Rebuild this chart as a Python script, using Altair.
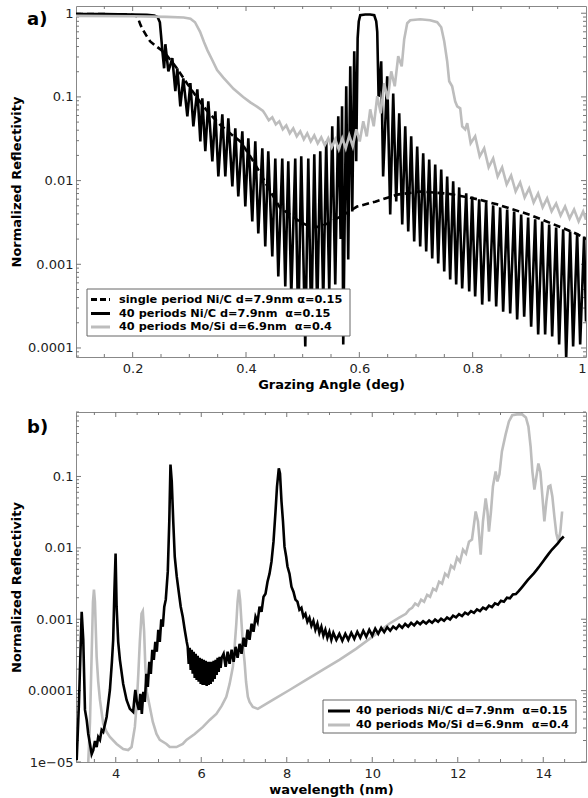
import altair as alt
import pandas as pd

# ---------------- panel a) reflectivity vs grazing angle ----------------
a_single = [
    (0.100, 0.98), (0.150, 0.975), (0.195, 0.965), (0.206, 0.94), (0.210, 0.85),
    (0.214, 0.72), (0.219, 0.62), (0.225, 0.53), (0.231, 0.46), (0.240, 0.41),
    (0.249, 0.37), (0.261, 0.31), (0.278, 0.22), (0.296, 0.145), (0.314, 0.097),
    (0.332, 0.067), (0.355, 0.046), (0.378, 0.034), (0.390, 0.0294), (0.4076, 0.0195),
    (0.4253, 0.0122), (0.4429, 0.0074), (0.4605, 0.0047), (0.4782, 0.0039), (0.4958, 0.0032),
    (0.5134, 0.0028), (0.531, 0.0028), (0.5487, 0.0032), (0.5751, 0.0040), (0.596, 0.0049),
    (0.628, 0.0056), (0.667, 0.0068), (0.707, 0.0074), (0.755, 0.0070), (0.808, 0.0060),
    (0.843, 0.0052), (0.901, 0.0039), (0.960, 0.0027), (0.984, 0.0023), (1.0, 0.0020),
]

a_nic = [
    (0.100, 0.98), (0.150, 0.975), (0.200, 0.965), (0.225, 0.955), (0.238, 0.94),
    (0.244, 0.90), (0.248, 0.78), (0.250, 0.55), (0.2525, 0.35), (0.2555, 0.22),
    (0.2577, 0.426), (0.2630, 0.202), (0.2700, 0.290), (0.2753, 0.117), (0.2788, 0.220),
    (0.2841, 0.0772), (0.2894, 0.167), (0.2965, 0.0586), (0.3018, 0.146), (0.3071, 0.0445),
    (0.3141, 0.123), (0.3194, 0.0294), (0.3229, 0.0962), (0.3282, 0.0224), (0.3335, 0.0886),
    (0.3406, 0.0170), (0.3459, 0.0673), (0.3512, 0.0112), (0.3582, 0.0619), (0.3635, 0.0112),
    (0.3688, 0.0555), (0.3759, 0.00853), (0.3811, 0.0421), (0.3864, 0.00647), (0.3935, 0.0388),
    (0.3988, 0.00491), (0.4041, 0.0320), (0.4111, 0.00325), (0.4164, 0.0294), (0.4217, 0.00234),
    (0.4288, 0.0243), (0.4340, 0.00163), (0.4393, 0.0224), (0.4464, 0.00124), (0.4517, 0.0184),
    (0.4570, 0.000715), (0.4640, 0.0184), (0.4693, 0.000542), (0.4746, 0.0170), (0.4799, 0.000412),
    (0.4869, 0.0184), (0.4922, 0.000157), (0.4975, 0.0195), (0.5046, 0.000104), (0.5099, 0.0184),
    (0.5152, 0.000157), (0.5205, 0.0206), (0.5257, 0.000272), (0.5310, 0.0224), (0.5363, 0.000359),
    (0.5416, 0.0294), (0.5469, 0.000473), (0.5522, 0.0445), (0.5575, 0.000573), (0.5628, 0.0586),
    (0.5670, 0.0020), (0.5695, 0.0772), (0.5716, 0.000110), (0.5769, 0.134), (0.5804, 0.00114),
    (0.5840, 0.232), (0.5875, 0.00428), (0.5910, 0.351), (0.5945, 0.0170), (0.5970, 0.50),
    (0.5990, 0.80), (0.6016, 0.946), (0.6104, 0.965), (0.6192, 0.965), (0.6263, 0.946),
    (0.6298, 0.802), (0.6316, 0.60), (0.6340, 0.10), (0.6386, 0.267), (0.6420, 0.0112),
    (0.6492, 0.176), (0.6545, 0.00394), (0.6598, 0.110), (0.6651, 0.00564), (0.6704, 0.0637),
    (0.6757, 0.00299), (0.6810, 0.0445), (0.6863, 0.00247), (0.6915, 0.0338), (0.6968, 0.00187),
    (0.7021, 0.0256), (0.7074, 0.00163), (0.7127, 0.0212), (0.7180, 0.00142), (0.7233, 0.0179),
    (0.7286, 0.00117), (0.7339, 0.0156), (0.7392, 0.00102), (0.7445, 0.0136), (0.7498, 0.00082),
    (0.7550, 0.0112), (0.7603, 0.000658), (0.7656, 0.00978), (0.7709, 0.000573), (0.7762, 0.00829),
    (0.7815, 0.000514), (0.7886, 0.00703), (0.7939, 0.000473), (0.7991, 0.00647), (0.8044, 0.000412),
    (0.8115, 0.00596), (0.8168, 0.000330), (0.8238, 0.00548), (0.8291, 0.000359), (0.8362, 0.00505),
    (0.8415, 0.000313), (0.8485, 0.00478), (0.8538, 0.000272), (0.8609, 0.00452), (0.8662, 0.000258),
    (0.8732, 0.00428), (0.8785, 0.000219), (0.8856, 0.00394), (0.8909, 0.000237), (0.8979, 0.00363),
    (0.9032, 0.000180), (0.9103, 0.00344), (0.9156, 0.000145), (0.9226, 0.00325), (0.9279, 0.000145),
    (0.9350, 0.00299), (0.9403, 0.000137), (0.9473, 0.00275), (0.9526, 0.000110), (0.9597, 0.00261),
    (0.9650, 0.000075), (0.9720, 0.00247), (0.9773, 0.000104), (0.9844, 0.00234), (0.9897, 0.000110),
    (0.9967, 0.00215), (1.0, 0.000207),
]

a_mosi = [
    (0.100, 0.93), (0.200, 0.92), (0.260, 0.905), (0.290, 0.89), (0.302, 0.86),
    (0.310, 0.78), (0.319, 0.60), (0.326, 0.45), (0.332, 0.36), (0.340, 0.28),
    (0.349, 0.21), (0.360, 0.17), (0.378, 0.125), (0.395, 0.10), (0.4076, 0.086),
    (0.420, 0.076), (0.4300, 0.068), (0.4340, 0.0619), (0.4402, 0.0525), (0.4464, 0.0570),
    (0.4526, 0.0470), (0.4587, 0.0511), (0.4649, 0.0410), (0.4711, 0.0457), (0.4773, 0.0367),
    (0.4834, 0.0421), (0.4896, 0.0338), (0.4958, 0.0388), (0.5020, 0.0311), (0.5081, 0.0367),
    (0.5143, 0.0294), (0.5205, 0.0347), (0.5266, 0.0279), (0.5328, 0.0329), (0.5390, 0.0264),
    (0.5452, 0.0320), (0.5513, 0.0250), (0.5575, 0.0311), (0.5637, 0.0236), (0.5699, 0.0320),
    (0.5760, 0.0243), (0.5822, 0.0347), (0.5884, 0.0256), (0.5946, 0.0410), (0.6007, 0.0294),
    (0.6069, 0.0511), (0.6131, 0.0338), (0.6192, 0.0711), (0.6254, 0.0445), (0.6316, 0.102),
    (0.6378, 0.0637), (0.6439, 0.146), (0.6501, 0.0936), (0.6563, 0.202), (0.6625, 0.134),
    (0.6686, 0.306), (0.6748, 0.232), (0.6792, 0.489), (0.6845, 0.759), (0.6898, 0.825),
    (0.7074, 0.848), (0.7250, 0.825), (0.7374, 0.780), (0.7445, 0.680), (0.7498, 0.463),
    (0.7550, 0.267), (0.7586, 0.154), (0.7638, 0.134), (0.7691, 0.0886), (0.7727, 0.0772),
    (0.7780, 0.0730), (0.7815, 0.0445), (0.7868, 0.0410), (0.7904, 0.0484), (0.7965, 0.0279),
    (0.8044, 0.0338), (0.8124, 0.0195), (0.8203, 0.0243), (0.8282, 0.0144), (0.8362, 0.0184),
    (0.8441, 0.0112), (0.8520, 0.0144), (0.8600, 0.00901), (0.8679, 0.0115), (0.8758, 0.00743),
    (0.8838, 0.00951), (0.8917, 0.00630), (0.8997, 0.00807), (0.9076, 0.00548), (0.9155, 0.00703),
    (0.9235, 0.00478), (0.9314, 0.00612), (0.9393, 0.00428), (0.9473, 0.00533), (0.9552, 0.00383),
    (0.9631, 0.00491), (0.9711, 0.00353), (0.9790, 0.00452), (0.9870, 0.00325), (0.9949, 0.00428),
    (1.0, 0.00340),
]

# ---------------- panel b) reflectivity vs wavelength ----------------
b_nic = [
    (3.086, 1.06e-5), (3.140, 6.95e-5), (3.203, 0.00127), (3.240, 0.000515), (3.280, 5.37e-5),
    (3.320, 3.88e-5), (3.357, 2.47e-5), (3.397, 1.79e-5), (3.436, 1.29e-5), (3.474, 1.47e-5),
    (3.513, 1.97e-5), (3.553, 1.62e-5), (3.590, 2.24e-5), (3.630, 2.04e-5), (3.670, 2.81e-5),
    (3.707, 2.64e-5), (3.786, 4.28e-5), (3.863, 1.02e-4), (3.910, 2.53e-4), (3.940, 5.15e-4),
    (3.968, 2.43e-3), (3.996, 8.3e-3), (4.020, 1.5e-3), (4.057, 4.83e-4), (4.097, 2.70e-4),
    (4.174, 1.24e-4), (4.253, 7.4e-5), (4.330, 5.55e-5), (4.407, 5.03e-5), (4.435, 7.66e-5),
    (4.458, 1.02e-4), (4.493, 6.95e-5), (4.540, 5.37e-5), (4.575, 9.0e-5), (4.610, 4.72e-5),
    (4.645, 9.6e-5), (4.680, 6.95e-5), (4.715, 1.72e-4), (4.750, 1.13e-4), (4.785, 2.53e-4),
    (4.820, 1.72e-4), (4.855, 3.73e-4), (4.890, 2.70e-4), (4.925, 4.83e-4), (4.960, 3.50e-4),
    (4.995, 7.12e-4), (5.030, 4.83e-4), (5.065, 1.0e-3), (5.100, 7.85e-4), (5.135, 1.5e-3),
    (5.170, 1.88e-3), (5.217, 4.64e-3), (5.252, 0.0234), (5.280, 0.147), (5.310, 0.0851),
    (5.345, 0.0234), (5.380, 0.00754), (5.427, 0.00395), (5.473, 0.00243), (5.520, 0.0015),
    (5.567, 0.00108), (5.613, 7.12e-4), (5.660, 4.83e-4), (5.683, 4.11e-4), (5.707, 2.37e-4),
    (5.730, 3.98e-4), (5.753, 1.955e-4), (5.777, 3.73e-4), (5.800, 1.72e-4), (5.823, 3.50e-4),
    (5.847, 1.51e-4), (5.870, 3.28e-4), (5.893, 1.415e-4), (5.917, 3.07e-4), (5.940, 1.33e-4),
    (5.963, 2.88e-4), (5.987, 1.24e-4), (6.010, 2.79e-4), (6.033, 1.20e-4), (6.057, 2.70e-4),
    (6.080, 1.20e-4), (6.103, 2.61e-4), (6.127, 1.166e-4), (6.150, 2.53e-4), (6.173, 1.20e-4),
    (6.197, 2.53e-4), (6.220, 1.24e-4), (6.243, 2.53e-4), (6.267, 1.33e-4), (6.290, 2.61e-4),
    (6.313, 1.46e-4), (6.337, 2.70e-4), (6.360, 1.66e-4), (6.383, 2.88e-4), (6.407, 1.83e-4),
    (6.430, 2.97e-4), (6.453, 2.09e-4), (6.477, 2.88e-4), (6.523, 3.28e-4), (6.570, 2.16e-4),
    (6.617, 3.5e-4), (6.663, 2.37e-4), (6.710, 3.73e-4), (6.757, 2.53e-4), (6.803, 4.11e-4),
    (6.850, 2.88e-4), (6.897, 4.52e-4), (6.943, 3.28e-4), (6.990, 5.5e-4), (7.037, 4.11e-4),
    (7.083, 7.12e-4), (7.130, 5.15e-4), (7.177, 8.65e-4), (7.223, 6.67e-4), (7.270, 1.08e-3),
    (7.317, 9.2e-4), (7.363, 1.5e-3), (7.410, 1.27e-3), (7.457, 2.07e-3), (7.503, 2.28e-3),
    (7.550, 3.36e-3), (7.597, 4.35e-3), (7.643, 6.41e-3), (7.690, 0.0122), (7.737, 0.0323),
    (7.772, 0.0724), (7.814, 0.13), (7.842, 0.110), (7.877, 0.0446), (7.912, 0.0234),
    (7.947, 0.0104), (7.987, 0.0075), (8.017, 0.00548), (8.064, 0.00435), (8.110, 0.00286),
    (8.157, 0.00243), (8.203, 1.88e-3), (8.250, 1.76e-3), (8.296, 1.36e-3), (8.343, 1.45e-3),
    (8.390, 1.08e-3), (8.437, 1.19e-3), (8.483, 9.2e-4), (8.530, 1.05e-3), (8.577, 8.1e-4),
    (8.623, 9.5e-4), (8.670, 7.12e-4), (8.717, 8.65e-4), (8.763, 6.46e-4), (8.810, 7.85e-4),
    (8.857, 5.9e-4), (8.903, 7.12e-4), (8.950, 5.5e-4), (8.997, 6.67e-4), (9.043, 5.15e-4),
    (9.090, 6.46e-4), (9.160, 5.15e-4), (9.230, 6.25e-4), (9.300, 5.0e-4), (9.370, 6.25e-4),
    (9.440, 5.15e-4), (9.510, 6.46e-4), (9.580, 5.3e-4), (9.650, 6.67e-4), (9.720, 5.5e-4),
    (9.790, 6.9e-4), (9.860, 5.7e-4), (9.930, 7.12e-4), (10.000, 5.9e-4), (10.070, 7.4e-4),
    (10.140, 6.25e-4), (10.210, 7.6e-4), (10.280, 6.6e-4), (10.350, 7.75e-4), (10.420, 6.9e-4),
    (10.490, 7.9e-4), (10.560, 7.3e-4), (10.630, 8.3e-4), (10.700, 7.6e-4), (10.770, 8.6e-4),
    (10.840, 7.9e-4), (10.910, 8.9e-4), (10.980, 8.2e-4), (11.050, 9.2e-4), (11.120, 8.5e-4),
    (11.190, 9.4e-4), (11.260, 8.7e-4), (11.330, 9.6e-4), (11.400, 8.9e-4), (11.470, 9.9e-4),
    (11.540, 9.2e-4), (11.610, 1.02e-3), (11.680, 9.5e-4), (11.750, 1.06e-3), (11.820, 9.9e-4),
    (11.890, 1.12e-3), (11.960, 1.06e-3), (12.030, 1.18e-3), (12.100, 1.11e-3), (12.170, 1.24e-3),
    (12.240, 1.17e-3), (12.310, 1.30e-3), (12.380, 1.23e-3), (12.450, 1.37e-3), (12.520, 1.30e-3),
    (12.590, 1.45e-3), (12.660, 1.38e-3), (12.730, 1.55e-3), (12.800, 1.48e-3), (12.870, 1.67e-3),
    (12.940, 1.60e-3), (13.010, 1.82e-3), (13.080, 1.76e-3), (13.150, 2.0e-3), (13.220, 1.96e-3),
    (13.290, 2.22e-3), (13.360, 2.25e-3), (13.430, 2.5e-3), (13.500, 2.8e-3), (13.570, 3.15e-3),
    (13.640, 3.55e-3), (13.710, 3.95e-3), (13.780, 4.4e-3), (13.850, 4.95e-3), (13.920, 5.6e-3),
    (13.990, 6.4e-3), (14.060, 7.3e-3), (14.130, 8.3e-3), (14.200, 9.4e-3), (14.270, 0.0104),
    (14.340, 0.0115), (14.410, 0.0131), (14.480, 0.0144),
]

b_mosi = [
    (3.35, 8.0e-6), (3.397, 3.64e-5), (3.432, 2.53e-4), (3.467, 1.76e-3), (3.490, 2.59e-3),
    (3.513, 1.76e-3), (3.553, 2.97e-4), (3.590, 1.33e-4), (3.630, 7.4e-5), (3.707, 3.41e-5),
    (3.786, 2.64e-5), (3.863, 2.24e-5), (4.020, 1.79e-5), (4.174, 1.52e-5), (4.290, 1.47e-5),
    (4.370, 1.62e-5), (4.447, 3.1e-5), (4.493, 6.95e-5), (4.528, 1.72e-4), (4.563, 4.83e-4),
    (4.603, 1.2e-3), (4.633, 1.3e-3), (4.664, 6.67e-4), (4.692, 2.16e-4), (4.727, 9.6e-5),
    (4.797, 5.9e-5), (4.867, 3.64e-5), (4.953, 2.47e-5), (5.030, 2.04e-5), (5.186, 1.79e-5),
    (5.263, 1.62e-5), (5.420, 1.62e-5), (5.567, 1.79e-5), (5.653, 2.04e-5), (5.847, 2.47e-5),
    (6.040, 3.1e-5), (6.197, 3.88e-5), (6.353, 4.72e-5), (6.477, 6.1e-5), (6.586, 8.2e-5),
    (6.663, 1.24e-4), (6.740, 2.16e-4), (6.780, 4.11e-4), (6.820, 8.65e-4), (6.850, 1.76e-3),
    (6.880, 2.59e-3), (6.908, 1.88e-3), (6.943, 8.65e-4), (6.978, 4.11e-4), (7.013, 2.53e-4),
    (7.048, 1.33e-4), (7.090, 8.2e-5), (7.130, 6.95e-5), (7.207, 5.9e-5), (7.324, 5.55e-5),
    (7.674, 7.4e-5), (8.064, 1.02e-4), (8.453, 1.415e-4), (8.840, 1.955e-4), (9.230, 2.70e-4),
    (9.620, 3.85e-4), (10.007, 5.7e-4), (10.397, 8.65e-4), (10.630, 1.05e-3), (10.787, 1.19e-3),
    (10.863, 1.36e-3), (10.933, 1.45e-3), (11.003, 1.66e-3), (11.073, 1.55e-3), (11.143, 1.88e-3),
    (11.213, 1.76e-3), (11.283, 2.2e-3), (11.353, 2.07e-3), (11.423, 2.68e-3), (11.493, 2.52e-3),
    (11.563, 3.36e-3), (11.633, 3.15e-3), (11.703, 4.35e-3), (11.773, 3.96e-3), (11.843, 5.63e-3),
    (11.913, 5.14e-3), (11.983, 7.3e-3), (12.053, 6.4e-3), (12.123, 9.4e-3), (12.193, 8.3e-3),
    (12.263, 0.0122), (12.333, 0.0131), (12.419, 0.0323), (12.473, 0.0234), (12.536, 8.0e-3),
    (12.590, 0.0234), (12.653, 0.0491), (12.695, 0.0323), (12.730, 0.0169), (12.777, 0.0323),
    (12.823, 0.0724), (12.886, 0.117), (12.928, 0.0851), (12.975, 0.107), (13.033, 0.224),
    (13.120, 0.389), (13.197, 0.59), (13.274, 0.72), (13.384, 0.74), (13.508, 0.74),
    (13.594, 0.67), (13.653, 0.50), (13.704, 0.263), (13.746, 0.117), (13.793, 0.0657),
    (13.840, 0.10), (13.886, 0.152), (13.933, 0.117), (13.980, 0.0524), (14.026, 0.0234),
    (14.073, 0.0446), (14.120, 0.0724), (14.166, 0.0748), (14.213, 0.0524), (14.260, 0.0276),
    (14.306, 0.0159), (14.353, 0.0122), (14.400, 0.0169), (14.442, 0.0323),
]

legend_a = ["single period Ni/C d=7.9nm α=0.15",
            "40 periods Ni/C d=7.9nm  α=0.15",
            "40 periods Mo/Si d=6.9nm  α=0.4"]
legend_b = ["40 periods Ni/C d=7.9nm  α=0.15",
            "40 periods Mo/Si d=6.9nm  α=0.4"]

a_xticks_major = [0.2, 0.4, 0.6, 0.8]
a_xticks_minor = [0.15, 0.25, 0.3, 0.35, 0.45, 0.5, 0.55, 0.65, 0.7, 0.75, 0.85, 0.9, 0.95]
a_ylabels = [1, 0.1, 0.01, 0.001, 0.0001]
b_xticks_major = [4, 6, 8, 10, 12, 14]
b_xticks_minor = [3.5, 4.5, 5, 5.5, 6.5, 7, 7.5, 8.5, 9, 9.5, 10.5, 11, 11.5, 12.5, 13, 13.5, 14.5]
b_ylabels = [0.1, 0.01, 0.001, 0.0001, 0.00001]

# ---------------- styling ----------------
FONT = "DejaVu Sans"
GREY = "#bdbdbd"
TICKC = "#777777"
W = 510
HA, HB = 351, 350


def minor_log(lo, hi):
    out = []
    for e in range(-6, 1):
        for m in range(2, 10):
            v = m * 10.0 ** e
            if lo <= v <= hi:
                out.append(v)
    return out


def frame(pairs):
    return pd.DataFrame({"x": [p[0] for p in pairs], "y": [p[1] for p in pairs]})


def tick_layers(xs, ys, xaxis, yaxis, H, xmaj, xmin, ymaj, ymin):
    layers = []
    for vals, ln in ((xmaj, 5), (xmin, 3)):
        base = alt.Chart(pd.DataFrame({"v": vals})).mark_rule(color=TICKC, strokeWidth=1)
        layers.append(base.encode(x=alt.X("v:Q", scale=xs, axis=xaxis), y=alt.value(H), y2=alt.value(H - ln)))
        layers.append(base.encode(x=alt.X("v:Q", scale=xs, axis=xaxis), y=alt.value(0), y2=alt.value(ln)))
    for vals, ln in ((ymaj, 5), (ymin, 3)):
        base = alt.Chart(pd.DataFrame({"v": vals})).mark_rule(color=TICKC, strokeWidth=1)
        layers.append(base.encode(y=alt.Y("v:Q", scale=ys, axis=yaxis), x=alt.value(0), x2=alt.value(ln)))
        layers.append(base.encode(y=alt.Y("v:Q", scale=ys, axis=yaxis), x=alt.value(W), x2=alt.value(W - ln)))
    return layers


def legend_layers(box, entries, sx1, sx2, tx):
    bx1, bx2, by1, by2 = box
    layers = [alt.Chart(pd.DataFrame({"k": [0]})).mark_rect(
        fill="white", stroke="#666666", strokeWidth=1).encode(
        x=alt.value(bx1), x2=alt.value(bx2), y=alt.value(by1), y2=alt.value(by2))]
    for label, color, dash, ry in entries:
        d = pd.DataFrame({"label": [label.replace("  ", " \u00a0")]})
        kw = dict(color=color, strokeWidth=3)
        if dash:
            kw["strokeDash"] = dash
        layers.append(alt.Chart(d).mark_rule(**kw).encode(
            x=alt.value(sx1), x2=alt.value(sx2), y=alt.value(ry)))
        layers.append(alt.Chart(d).mark_text(
            align="left", baseline="middle", font=FONT, fontSize=11.3,
            fontWeight="bold", color="black").encode(
            x=alt.value(tx), y=alt.value(ry), text="label:N"))
    return layers


def tag(text, y):
    return alt.Chart(pd.DataFrame({"t": [text]})).mark_text(
        align="left", baseline="alphabetic", font=FONT, fontSize=18,
        fontWeight="bold", color="black").encode(
        x=alt.value(-49), y=alt.value(y), text="t:N")


def line(df, xs, ys, xaxis, yaxis, color, dash=None, width=2.6):
    kw = dict(color=color, strokeWidth=width, clip=True)
    if dash:
        kw["strokeDash"] = dash
    return alt.Chart(df).mark_line(**kw).encode(
        x=alt.X("x:Q", scale=xs, axis=xaxis),
        y=alt.Y("y:Q", scale=ys, axis=yaxis),
        order=alt.Order("x:Q"))


def axes(xtitle, xvals, ytitle, yvals, H, ylabel_expr, flush):
    xaxis = alt.Axis(title=xtitle, values=xvals, format="~g", labelFlush=flush,
                     ticks=False, domain=False, grid=False, labelPadding=5,
                     titleY=27, titleBaseline="middle")
    yaxis = alt.Axis(title=ytitle, values=yvals, labelExpr=ylabel_expr,
                     ticks=False, domain=False, grid=False, labelPadding=3,
                     titleX=-60, titleY=H / 2, titleAngle=-90,
                     titleAlign="center", titleBaseline="middle")
    return xaxis, yaxis


# ---------------- panel a ----------------
xs_a = alt.Scale(domain=[0.1, 1.0], nice=False, zero=False)
ys_a = alt.Scale(type="log", domain=[7.8e-5, 1.22], nice=False)
xa, ya = axes("Grazing Angle (deg)", [0.2, 0.4, 0.6, 0.8, 1.0],
              "Normalized Reflectivity", a_ylabels, HA, "format(datum.value, '~g')", True)

layers_a = tick_layers(xs_a, ys_a, xa, ya, HA, a_xticks_major, a_xticks_minor,
                       a_ylabels, minor_log(7.8e-5, 1.22))
layers_a += [
    line(frame(a_nic), xs_a, ys_a, xa, ya, "black"),
    line(frame(a_single), xs_a, ys_a, xa, ya, "black", dash=[7, 4]),
    line(frame(a_mosi), xs_a, ys_a, xa, ya, GREY),
]
layers_a += legend_layers((11, 274, 283, 330), [
    (legend_a[0], "black", [6, 3], 293.5),
    (legend_a[1], "black", None, 307.5),
    (legend_a[2], GREY, None, 321),
], 15, 34, 43)
layers_a.append(tag("a)", 19))
panel_a = alt.layer(*layers_a).properties(width=W, height=HA)

# ---------------- panel b ----------------
xs_b = alt.Scale(domain=[3.07, 15], nice=False, zero=False)
ys_b = alt.Scale(type="log", domain=[1e-5, 0.8], nice=False)
xb, yb = axes("wavelength (nm)", [4, 6, 8, 10, 12, 14],
              "Normalized Reflectivity", b_ylabels, HB,
              "datum.value < 0.00005 ? '1e\u221205' : format(datum.value, '~g')", False)

layers_b = tick_layers(xs_b, ys_b, xb, yb, HB, b_xticks_major, b_xticks_minor,
                       b_ylabels, minor_log(1e-5, 0.8))
layers_b += [
    line(frame(b_mosi), xs_b, ys_b, xb, yb, GREY),
    line(frame(b_nic), xs_b, ys_b, xb, yb, "black"),
]
layers_b += legend_layers((247, 500, 288, 321), [
    (legend_b[0], "black", None, 299),
    (legend_b[1], GREY, None, 313),
], 252, 274, 280)
layers_b.append(tag("b)", 21))
panel_b = alt.layer(*layers_b).properties(width=W, height=HB)

chart = alt.vconcat(panel_a, panel_b, spacing=55, bounds="flush").properties(
    padding={"left": 9, "top": 5, "right": 0, "bottom": 2},
).configure_view(stroke="#888888", strokeWidth=1).configure_axis(
    labelFont=FONT, titleFont=FONT, labelFontSize=13, titleFontSize=13,
    titleFontWeight="bold", labelColor="#222222", titleColor="#000000",
)

chart.save("out.html", embed_options={"renderer": "svg", "actions": False})
